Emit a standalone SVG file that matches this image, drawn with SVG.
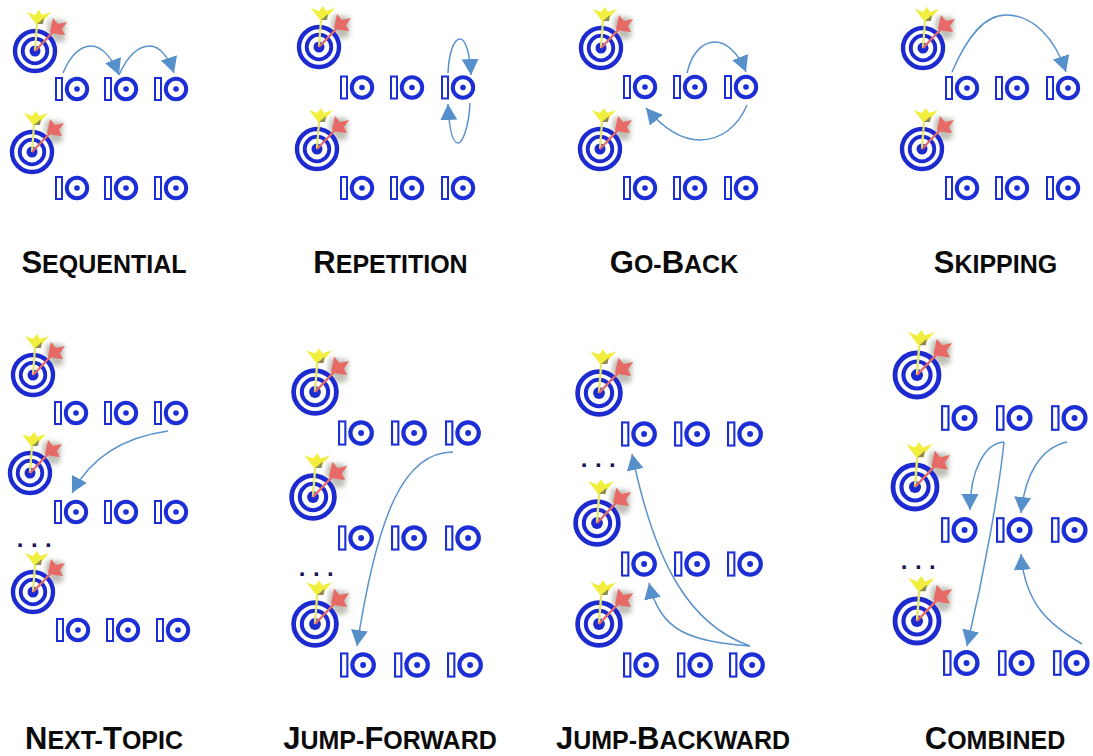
<svg xmlns="http://www.w3.org/2000/svg" width="1093" height="756" viewBox="0 0 1093 756">
<style>
.lab{font-family:"Liberation Sans",Arial,sans-serif;font-weight:700;font-size:25px;fill:#0a0a0a;text-anchor:middle}
.big{font-size:31px}
.c{fill:none;stroke:#5b93cc;stroke-width:1.5;marker-end:url(#a)}
.dots{font-family:"Liberation Sans",Arial,sans-serif;font-weight:700;font-size:24px;fill:#15155a;text-anchor:middle;letter-spacing:7.5px}
</style>
<defs>
<filter id="b" x="-20%" y="-20%" width="140%" height="140%"><feGaussianBlur stdDeviation="0.6"/></filter>
<filter id="s" x="-40%" y="-40%" width="180%" height="180%"><feGaussianBlur stdDeviation="2.5"/></filter>
<marker id="a" markerUnits="userSpaceOnUse" markerWidth="20" markerHeight="20" refX="16" refY="8.5" orient="auto"><path d="M0 0L16 8.5L0 17Z" fill="#5590cb"/></marker>
<g id="t" filter="url(#b)">
<path d="M14 -32L31 -30L30 -10L20 -8L12 -20Z" fill="#8a8a7a" opacity=".55" filter="url(#s)"/>
<circle r="20" fill="#fff" stroke="#1a2bd0" stroke-width="4.4"/>
<circle r="12.3" fill="#fff" stroke="#1a2bd0" stroke-width="3.8"/>
<circle r="5.5" fill="#1a2bd0"/>
<path d="M0 0L2 -27" stroke="#e6e66a" stroke-width="2.2" fill="none"/>
<path d="M1 -27L-8 -39L0 -36L4 -41L7 -36L16 -39L9 -31L6 -27Z" fill="#f2ee3c"/>
<path d="M2 -27L9 -33L8 -27Z" fill="#8d8d52"/>
<path d="M0 0L20 -21" stroke="#e46a6a" stroke-width="2.2" fill="none"/>
<path d="M15 -19L18 -33L23 -27L32 -29L27 -22L30 -16L21 -17Z" fill="#e86a66"/>
</g>
<g id="i" filter="url(#b)">
<rect x="1" y="-11" width="6" height="22" fill="#fff" stroke="#1f2fd6" stroke-width="2"/>
<circle cx="22" cy="0" r="10.2" fill="#fff" stroke="#1f2fd6" stroke-width="4"/>
<circle cx="22" cy="0" r="2.8" fill="#1f2fd6"/>
</g>
</defs>

<g id="sequential">
<use href="#t" x="35" y="51"/><use href="#t" x="32" y="152"/>
<use href="#i" x="55" y="89"/><use href="#i" x="104" y="89"/><use href="#i" x="154" y="89"/>
<use href="#i" x="55" y="188"/><use href="#i" x="104" y="188"/><use href="#i" x="154" y="188"/>
<text class="lab" x="104" y="272.500"><tspan class="big">S</tspan>EQUENTIAL</text>
</g>
<g id="repetition">
<use href="#t" x="319" y="47"/><use href="#t" x="317" y="149"/>
<use href="#i" x="340" y="87.500"/><use href="#i" x="390" y="87.500"/><use href="#i" x="441" y="87.500"/>
<use href="#i" x="340" y="188"/><use href="#i" x="390" y="188"/><use href="#i" x="441" y="188"/>
<text class="lab" x="390.500" y="272.500"><tspan class="big">R</tspan>EPETITION</text>
</g>
<g id="go-back">
<use href="#t" x="601" y="48"/><use href="#t" x="600" y="149"/>
<use href="#i" x="623" y="87"/><use href="#i" x="673" y="87"/><use href="#i" x="724" y="87"/>
<use href="#i" x="623" y="188"/><use href="#i" x="673" y="188"/><use href="#i" x="724" y="188"/>
<text class="lab" x="674" y="272.500"><tspan class="big">G</tspan>O-<tspan class="big">B</tspan>ACK</text>
</g>
<g id="skipping">
<use href="#t" x="923" y="48"/><use href="#t" x="922" y="149"/>
<use href="#i" x="945" y="88"/><use href="#i" x="995" y="88"/><use href="#i" x="1046" y="88"/>
<use href="#i" x="945" y="188"/><use href="#i" x="995" y="188"/><use href="#i" x="1046" y="188"/>
<text class="lab" x="995.500" y="272.500"><tspan class="big">S</tspan>KIPPING</text>
</g>
<g id="next-topic">
<use href="#t" x="33" y="375"/><use href="#t" x="30" y="473"/><use href="#t" x="33" y="592"/>
<use href="#i" x="54" y="413"/><use href="#i" x="104" y="413"/><use href="#i" x="154" y="413"/>
<use href="#i" x="54" y="512"/><use href="#i" x="104" y="512"/><use href="#i" x="154" y="512"/>
<use href="#i" x="56" y="630"/><use href="#i" x="106" y="630"/><use href="#i" x="156" y="630"/>
<text class="dots" x="38" y="547">...</text>
<text class="lab" x="104" y="749"><tspan class="big">N</tspan>EXT-<tspan class="big">T</tspan>OPIC</text>
</g>
<g id="jump-forward">
<use href="#t" transform="translate(315 392) scale(1.07)"/><use href="#t" transform="translate(313 497) scale(1.07)"/><use href="#t" transform="translate(315 624) scale(1.07)"/>
<use href="#i" transform="translate(338 433) scale(1.05)"/><use href="#i" transform="translate(391 433) scale(1.05)"/><use href="#i" transform="translate(445 433) scale(1.05)"/>
<use href="#i" transform="translate(338 538) scale(1.05)"/><use href="#i" transform="translate(391 538) scale(1.05)"/><use href="#i" transform="translate(445 538) scale(1.05)"/>
<use href="#i" transform="translate(340 665) scale(1.05)"/><use href="#i" transform="translate(394 665) scale(1.05)"/><use href="#i" transform="translate(447 665) scale(1.05)"/>
<text class="dots" x="320" y="576">...</text>
<text class="lab" x="390" y="749"><tspan class="big">J</tspan>UMP-<tspan class="big">F</tspan>ORWARD</text>
</g>
<g id="jump-backward">
<use href="#t" transform="translate(599 393) scale(1.07)"/><use href="#t" transform="translate(597 523) scale(1.07)"/><use href="#t" transform="translate(599 624) scale(1.07)"/>
<use href="#i" transform="translate(621 434) scale(1.05)"/><use href="#i" transform="translate(674 434) scale(1.05)"/><use href="#i" transform="translate(727 434) scale(1.05)"/>
<use href="#i" transform="translate(621 564) scale(1.05)"/><use href="#i" transform="translate(674 564) scale(1.05)"/><use href="#i" transform="translate(727 564) scale(1.05)"/>
<use href="#i" transform="translate(623 665) scale(1.05)"/><use href="#i" transform="translate(677 665) scale(1.05)"/><use href="#i" transform="translate(729 665) scale(1.05)"/>
<text class="dots" x="602" y="467">...</text>
<text class="lab" x="673" y="749"><tspan class="big">J</tspan>UMP-<tspan class="big">B</tspan>ACKWARD</text>
</g>
<g id="combined">
<use href="#t" transform="translate(917 375) scale(1.1)"/><use href="#t" transform="translate(915 487) scale(1.1)"/><use href="#t" transform="translate(917 621) scale(1.1)"/>
<use href="#i" transform="translate(941 418) scale(1.07)"/><use href="#i" transform="translate(996 418) scale(1.07)"/><use href="#i" transform="translate(1051 418) scale(1.07)"/>
<use href="#i" transform="translate(941 530) scale(1.07)"/><use href="#i" transform="translate(996 530) scale(1.07)"/><use href="#i" transform="translate(1051 530) scale(1.07)"/>
<use href="#i" transform="translate(943 663) scale(1.07)"/><use href="#i" transform="translate(998 663) scale(1.07)"/><use href="#i" transform="translate(1053 663) scale(1.07)"/>
<text class="dots" x="922" y="569">...</text>
<text class="lab" x="995" y="749"><tspan class="big">C</tspan>OMBINED</text>
</g>

<g id="connectors">
<path class="c" d="M63 73C72 52 82 46 91 46C103 46 113 60 119 75"/>
<path class="c" d="M119 75C128 55 139 46 150 46C160 46 169 58 174 73"/>
<path class="c" d="M448 73C449 52 454 39 460 39C466 39 470 55 471 75"/>
<path class="c" d="M470 103C469 125 463 143 458 143C452 143 449 125 448 104"/>
<path class="c" d="M687 73C692 52 703 42 715 42C727 42 739 54 746 72"/>
<path class="c" d="M747 105C738 127 720 140 700 140C682 140 663 128 646 108"/>
<path class="c" d="M952 72C968 35 985 15 1006 15C1033 15 1055 38 1066 72"/>
<path class="c" d="M168 431C125 437 92 455 72 493"/>
<path class="c" d="M453 452C405 452 378 510 357 646"/>
<path class="c" d="M750 646C690 625 655 565 632 454"/>
<path class="c" d="M750 646C690 641 660 632 649 583"/>
<path class="c" d="M1004 442C985 443 970 470 970 510"/>
<path class="c" d="M1004 442C999 490 985 570 967 646"/>
<path class="c" d="M1067 442C1040 448 1025 475 1021 513"/>
<path class="c" d="M1082 644C1050 625 1025 605 1021 554"/>
</g>
</svg>
